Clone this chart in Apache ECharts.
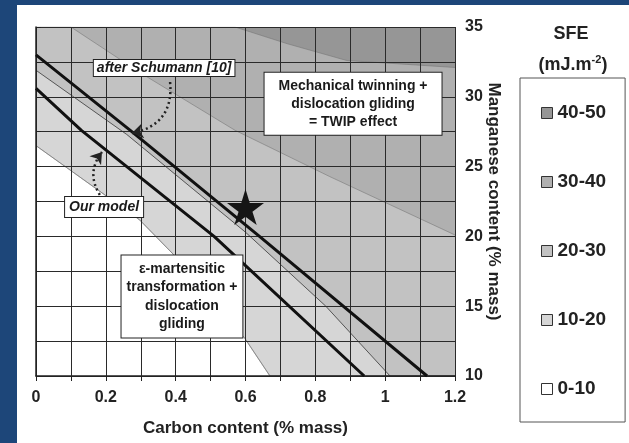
<!DOCTYPE html>
<html><head><meta charset="utf-8">
<script src="https://cdn.jsdelivr.net/npm/echarts@6/dist/echarts.min.js"></script>
<style>
html,body{margin:0;padding:0;background:#1d4679;width:629px;height:443px;overflow:hidden}
#chart{position:absolute;left:17px;top:5px;width:612px;height:438px;background:#fff}
</style></head><body><div id="chart"></div>
<script>
// ---- data (carbon %, manganese %) ----
const carbonTicks = ['0', '0.2', '0.4', '0.6', '0.8', '1', '1.2'];
const manganeseTicks = ['10', '15', '20', '25', '30', '35'];
const sfeBands = ['40-50', '30-40', '20-30', '10-20', '0-10'];
// SFE contour boundaries
const edge10 = [[0, 26.5], [0.296, 21.2], [0.39, 18.8], [0.598, 12.7], [0.67, 10], [1.2, 10]];
const edge20 = [[0, 31.9], [0.26, 27.3], [0.6, 20.3], [0.83, 15], [1.014, 10], [1.2, 10]];
const edge30 = [[0, 35], [0.1, 35], [0.3, 31.7], [0.57, 27.6], [0.84, 24.3], [1.2, 20.1]];
const edge40 = [[0, 35], [0.57, 35], [0.72, 33.8], [0.89, 32.6], [1.2, 32.1]];
// epsilon-martensite / twinning transition lines
const ourModel = [[0, 30.6], [0.13, 27.6], [0.51, 20], [0.94, 10]];
const schumann = [[0, 33.0], [0.27, 27.6], [0.64, 20], [1.12, 10]];
const starPoint = [[0.6, 22.1]];
// annotation anchors (carbon, manganese)
const twipAnchor = [0.908, 29.5];
const schumannAnchor = [0.367, 32.06];
const modelAnchor = [0.195, 22.1];
const martensiteAnchor = [0.418, 15.7];
const schumannArrow = [[0.384, 31.06], [0.275, 27.4]];
const modelArrow = [[0.183, 22.97], [0.189, 26.05]];

const bandColors = {'0-10': '#ffffff', '10-20': '#d6d6d6', '20-30': '#c2c2c2', '30-40': '#b0b0b0', '40-50': '#969696'};
const FONT = 'Liberation Sans, Arial, sans-serif';

function band(name, data, origin) {
  return {
    name: name, type: 'line', data: data, z: 1, showSymbol: false, silent: true,
    lineStyle: {width: name === '20-30' ? 1 : 0.6, color: name === '20-30' ? '#555' : '#777'},
    itemStyle: {color: bandColors[name]},
    areaStyle: {color: bandColors[name], opacity: 1, origin: origin}
  };
}
function boxLabel(text, italic, pad, lh) {
  return {
    show: true, position: 'inside', formatter: text, opacity: 1,
    fontFamily: FONT, fontWeight: 'bold', fontStyle: italic ? 'italic' : 'normal',
    fontSize: 14, lineHeight: lh, color: '#1a1a1a', align: 'center',
    backgroundColor: '#fff', borderColor: '#222', borderWidth: 1, padding: pad
  };
}

const chart = echarts.init(document.getElementById('chart'));
chart.setOption({
  animation: false,
  backgroundColor: '#fff',
  title: [
    {text: 'SFE', left: 549, top: 15, textAlign: 'center',
     textStyle: {fontFamily: FONT, fontWeight: 'bold', fontSize: 18, color: '#222'}},
    {text: '{a|(mJ.m}{s|-2}{a|)}', left: 551, top: 44, textAlign: 'center',
     textStyle: {rich: {
       a: {fontFamily: FONT, fontWeight: 'bold', fontSize: 18, color: '#222', lineHeight: 22},
       s: {fontFamily: FONT, fontWeight: 'bold', fontSize: 11, color: '#222', verticalAlign: 'top', lineHeight: 22, padding: [0, 0, 10, 0]}
     }}}
  ],
  legend: {
    orient: 'vertical', left: 503, top: 73,
    data: sfeBands.map(n => ({name: n, itemStyle: {color: bandColors[n], borderColor: '#333', borderWidth: 1}})),
    icon: 'rect', itemWidth: 11, itemHeight: 11, itemGap: 49,
    padding: [25, 19, 23, 21],
    borderColor: '#555', borderWidth: 1,
    selectedMode: false,
    textStyle: {fontFamily: FONT, fontWeight: 'bold', fontSize: 19, color: '#222', lineHeight: 20}
  },
  grid: {left: 19, top: 22, right: 174, bottom: 67},
  xAxis: {
    type: 'value', min: 0, max: 1.2, interval: 0.2, z: 3,
    axisLine: {show: true, lineStyle: {color: '#222', width: 1.5}},
    axisTick: {show: true, length: 5, lineStyle: {color: '#222'}},
    minorTick: {show: true, splitNumber: 2, length: 5, lineStyle: {color: '#222'}},
    splitLine: {show: true, lineStyle: {color: '#2a2a2a', width: 1}},
    minorSplitLine: {show: true, lineStyle: {color: '#2a2a2a', width: 1}},
    axisLabel: {formatter: v => carbonTicks[Math.round(v / 0.2)], fontFamily: FONT, fontWeight: 'bold', fontSize: 16, color: '#222', margin: 14},
    name: 'Carbon content (% mass)', nameLocation: 'middle', nameGap: 44, nameMoveOverlap: false,
    nameTextStyle: {fontFamily: FONT, fontWeight: 'bold', fontSize: 17, color: '#222'}
  },
  yAxis: {
    type: 'value', min: 10, max: 35, interval: 5, position: 'right', z: 3,
    axisLine: {show: true, lineStyle: {color: '#222', width: 1.5}},
    axisTick: {show: true, length: 5, lineStyle: {color: '#222'}},
    minorTick: {show: true, splitNumber: 2, length: 5, lineStyle: {color: '#222'}},
    splitLine: {show: true, lineStyle: {color: '#2a2a2a', width: 1}},
    minorSplitLine: {show: true, lineStyle: {color: '#2a2a2a', width: 1}},
    axisLabel: {formatter: v => manganeseTicks[Math.round((v - 10) / 5)], fontFamily: FONT, fontWeight: 'bold', fontSize: 16, color: '#222', margin: 10},
    name: 'Manganese content (% mass)', nameLocation: 'middle', nameGap: 30, nameRotate: -90, nameMoveOverlap: false,
    nameTextStyle: {fontFamily: FONT, fontWeight: 'bold', fontSize: 17, color: '#222'}
  },
  series: [
    band('0-10', edge10, 'start'),
    band('10-20', edge10, 'end'),
    band('20-30', edge20, 'end'),
    band('30-40', edge30, 'end'),
    band('40-50', edge40, 'end'),
    {name: 'Our model', type: 'line', data: ourModel, z: 6, showSymbol: false, silent: true,
     lineStyle: {color: '#111', width: 3}},
    {name: 'after Schumann [10]', type: 'line', data: schumann, z: 6, showSymbol: false, silent: true,
     lineStyle: {color: '#111', width: 3}},
    {name: 'arrows', type: 'lines', coordinateSystem: 'cartesian2d', z: 7, silent: true,
     symbol: ['none', 'arrow'], symbolSize: 11,
     lineStyle: {color: '#222', width: 2.5, type: [2, 3], opacity: 1},
     data: [
       {coords: schumannArrow, lineStyle: {curveness: 0.45}},
       {coords: modelArrow, lineStyle: {curveness: 0.35}}
     ]},
    {name: 'star', type: 'scatter', data: starPoint, z: 8, silent: true,
     symbol: 'path://M50,0 L61,35 L98,35 L68,57 L79,91 L50,70 L21,91 L32,57 L2,35 L39,35 Z',
     symbolSize: [37, 36], itemStyle: {color: '#151515', opacity: 1}},
    {name: 'notes', type: 'scatter', z: 9, silent: true, symbolSize: 1,
     itemStyle: {color: '#ffffff', opacity: 1},
     data: [
       {value: twipAnchor, label: boxLabel('Mechanical twinning +\ndislocation gliding\n= TWIP effect', false, [4, 14], 18)},
       {value: schumannAnchor, label: boxLabel('after Schumann [10]', true, [1, 3], 14)},
       {value: modelAnchor, label: boxLabel('Our model', true, [3, 4], 14)},
       {value: martensiteAnchor, label: boxLabel('ε-martensitic\ntransformation +\ndislocation\ngliding', false, [4, 5], 18.5)}
     ]}
  ]
});
</script></body></html>
